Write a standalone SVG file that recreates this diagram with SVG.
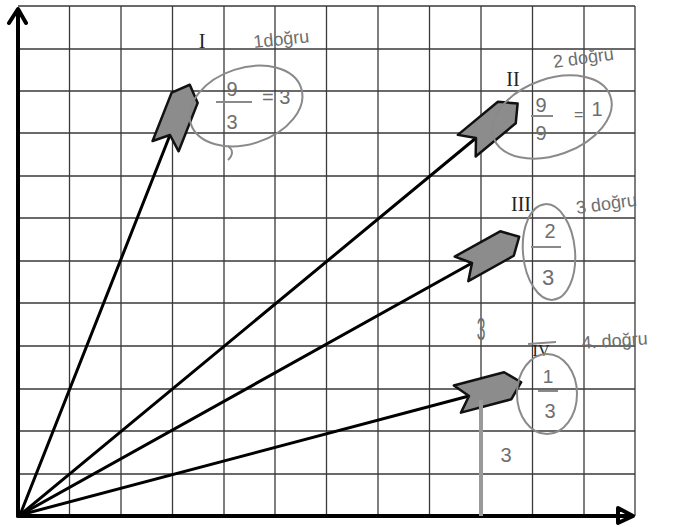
<svg xmlns="http://www.w3.org/2000/svg" width="678" height="527" viewBox="0 0 678 527">
<style>
.grid{stroke:#3a3a3a;stroke-width:1.3;fill:none}
.axis{stroke:#000;stroke-width:4;fill:none;stroke-linecap:round;stroke-linejoin:round}
.vec{stroke:#000;stroke-width:3;fill:none;stroke-linecap:round}
.head{fill:#8c8c8c;stroke:#111;stroke-width:2.5;stroke-linejoin:round}
.pen{fill:none;stroke:#8a8a8a;stroke-width:2}
.hw{font-family:"Liberation Sans",Arial,sans-serif;fill:#6e6e6e}
.rn{font-family:"Liberation Serif","Times New Roman",serif;fill:#222}
</style>
<defs>
<polygon id="hd" class="head" points="0,0 -12,-14 40,-14 54,0 40,14 -12,14"/>
</defs>
<rect width="678" height="527" fill="#fff"/>
<g id="grid" class="grid">
<path d="M18,6H635M18,49H635M18,91H635M18,133H635M18,176H635M18,218H635M18,261H635M18,303H635M18,346H635M18,389H635M18,431H635M18,474H635"/>
<path d="M69.5,6V516M121,6V516M172.5,6V516M224,6V516M275,6V516M326.5,6V516M378,6V516M429.5,6V516M481,6V516M532.5,6V516M584,6V516M635,6V516"/>
</g>
<g id="axes">
<path class="axis" d="M18,516V10M9,23L18,9L26,23"/>
<path class="axis" d="M18,516H631M618,508L633,516L618,523Z" fill="#000"/>
</g>
<g id="connectors">
<line class="vec" x1="20" y1="515" x2="170" y2="135"/>
<line class="vec" x1="20" y1="515" x2="476" y2="138"/>
<line class="vec" x1="20" y1="515" x2="472" y2="263"/>
<line class="vec" x1="20" y1="515" x2="469" y2="396"/>
<use href="#hd" transform="translate(170,135) rotate(-68.5)"/>
<use href="#hd" transform="translate(476,138) rotate(-39.6)"/>
<use href="#hd" transform="translate(472,263) rotate(-29.1)"/>
<use href="#hd" transform="translate(469,396) rotate(-14.8)"/>
</g>
<g id="n1">
<text class="rn" x="202" y="48" font-size="20" text-anchor="middle">I</text>
<text class="hw" x="254" y="48" font-size="18" transform="rotate(-6 254 48)">1doğru</text>
<ellipse class="pen" cx="246" cy="106" rx="58" ry="38" transform="rotate(-18 246 106)"/>
<path class="pen" d="M228,146 Q236,152 228,160"/>
<text class="hw" x="232" y="96" font-size="20" text-anchor="middle">9</text>
<path class="pen" d="M216,102H252"/>
<text class="hw" x="232" y="129" font-size="20" text-anchor="middle">3</text>
<text class="hw" x="262" y="104" font-size="20">= 3</text>
</g>
<g id="n2">
<text class="rn" x="513" y="86" font-size="20" text-anchor="middle">II</text>
<text class="hw" x="554" y="68" font-size="18" transform="rotate(-8 554 68)">2 doğru</text>
<ellipse class="pen" cx="552" cy="117" rx="62" ry="38" transform="rotate(-20 552 117)"/>
<text class="hw" x="541" y="112" font-size="20" text-anchor="middle">9</text>
<path class="pen" d="M531,116H553"/>
<text class="hw" x="541" y="140" font-size="20" text-anchor="middle">9</text>
<text class="hw" x="574" y="120" font-size="16">=</text>
<text class="hw" x="597" y="116" font-size="20" text-anchor="middle">1</text>
</g>
<g id="n3">
<text class="rn" x="521" y="211" font-size="20" text-anchor="middle">III</text>
<text class="hw" x="577" y="214" font-size="18" transform="rotate(-8 577 214)">3 doğru</text>
<ellipse class="pen" cx="549" cy="252" rx="26" ry="48" transform="rotate(-5 549 252)"/>
<text class="hw" x="550" y="238" font-size="20" text-anchor="middle">2</text>
<path class="pen" d="M531,247H561"/>
<text class="hw" x="548" y="285" font-size="22" text-anchor="middle">3</text>
</g>
<g id="n4">
<text class="rn" x="541" y="356" font-size="16" text-anchor="middle">IV</text>
<path class="pen" d="M528,344L556,342"/>
<text class="hw" x="582" y="349" font-size="18" transform="rotate(-4 582 349)">4. doğru</text>
<ellipse class="pen" cx="547" cy="394" rx="30" ry="40"/>
<text class="hw" x="548" y="383" font-size="19" text-anchor="middle">1</text>
<path class="pen" d="M538,391H558"/>
<text class="hw" x="550" y="418" font-size="20" text-anchor="middle">3</text>
</g>
<g id="marks">
<text class="hw" x="0" y="0" font-size="26" text-anchor="middle" transform="translate(481,340) scale(0.6,1.2)">3</text>
<line x1="481" y1="400" x2="481" y2="516" stroke="#999" stroke-width="4"/>
<text class="hw" x="506" y="462" font-size="20" text-anchor="middle">3</text>
</g>
</svg>
